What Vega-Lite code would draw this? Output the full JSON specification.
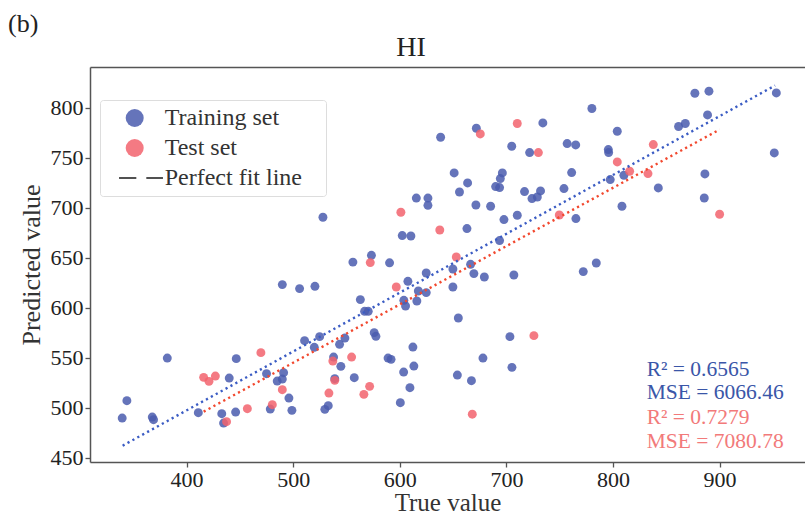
{
  "$schema": "https://vega.github.io/schema/vega-lite/v6.json",
  "width": 715,
  "height": 395,
  "autosize": {"type": "none"},
  "padding": {"left": 90, "top": 67, "right": 0, "bottom": 55},
  "background": "white",
  "config": {"view": {"stroke": null}, "font": "Liberation Serif"},
  "title": {"text": "(b)", "anchor": "start", "frame": "group", "dx": -82, "dy": 5, "offset": -20, "baseline": "alphabetic", "font": "Liberation Serif", "fontSize": 26, "fontWeight": "normal", "color": "#222"},
  "datasets": {
    "pts": [
      {"x": 339.6, "y": 489.6, "set": "Training set"},
      {"x": 344, "y": 507, "set": "Training set"},
      {"x": 367.8, "y": 490.6, "set": "Training set"},
      {"x": 369, "y": 488, "set": "Training set"},
      {"x": 381.9, "y": 549.6, "set": "Training set"},
      {"x": 411, "y": 495, "set": "Training set"},
      {"x": 433, "y": 494, "set": "Training set"},
      {"x": 434.7, "y": 484.6, "set": "Training set"},
      {"x": 440, "y": 529.6, "set": "Training set"},
      {"x": 446.6, "y": 549, "set": "Training set"},
      {"x": 446, "y": 495.6, "set": "Training set"},
      {"x": 475, "y": 534, "set": "Training set"},
      {"x": 478.5, "y": 498.6, "set": "Training set"},
      {"x": 485, "y": 526.6, "set": "Training set"},
      {"x": 489.8, "y": 528.6, "set": "Training set"},
      {"x": 491, "y": 535, "set": "Training set"},
      {"x": 489.8, "y": 623, "set": "Training set"},
      {"x": 496, "y": 509.6, "set": "Training set"},
      {"x": 498.8, "y": 497.3, "set": "Training set"},
      {"x": 506, "y": 619, "set": "Training set"},
      {"x": 510.7, "y": 567, "set": "Training set"},
      {"x": 519.8, "y": 560.3, "set": "Training set"},
      {"x": 520.4, "y": 621.3, "set": "Training set"},
      {"x": 524.8, "y": 571, "set": "Training set"},
      {"x": 529.7, "y": 498.3, "set": "Training set"},
      {"x": 532.9, "y": 502, "set": "Training set"},
      {"x": 537.9, "y": 550.6, "set": "Training set"},
      {"x": 539, "y": 529, "set": "Training set"},
      {"x": 544.7, "y": 541.3, "set": "Training set"},
      {"x": 543.5, "y": 563.3, "set": "Training set"},
      {"x": 548.5, "y": 569.6, "set": "Training set"},
      {"x": 557.3, "y": 530, "set": "Training set"},
      {"x": 563, "y": 608, "set": "Training set"},
      {"x": 567, "y": 596.3, "set": "Training set"},
      {"x": 570.4, "y": 596.3, "set": "Training set"},
      {"x": 576, "y": 575, "set": "Training set"},
      {"x": 577.6, "y": 571.3, "set": "Training set"},
      {"x": 589, "y": 549.6, "set": "Training set"},
      {"x": 591.8, "y": 548.3, "set": "Training set"},
      {"x": 600.5, "y": 505, "set": "Training set"},
      {"x": 603.6, "y": 535.6, "set": "Training set"},
      {"x": 603.8, "y": 607.3, "set": "Training set"},
      {"x": 605.4, "y": 601.6, "set": "Training set"},
      {"x": 607.6, "y": 626.3, "set": "Training set"},
      {"x": 609.5, "y": 520, "set": "Training set"},
      {"x": 612.3, "y": 560.6, "set": "Training set"},
      {"x": 613.2, "y": 541.6, "set": "Training set"},
      {"x": 616, "y": 606.6, "set": "Training set"},
      {"x": 617.4, "y": 616.6, "set": "Training set"},
      {"x": 624.8, "y": 634.6, "set": "Training set"},
      {"x": 624.8, "y": 615, "set": "Training set"},
      {"x": 556, "y": 645.5, "set": "Training set"},
      {"x": 590.4, "y": 644.8, "set": "Training set"},
      {"x": 527.9, "y": 690.3, "set": "Training set"},
      {"x": 573.4, "y": 652.3, "set": "Training set"},
      {"x": 615.5, "y": 709.5, "set": "Training set"},
      {"x": 626.4, "y": 709.5, "set": "Training set"},
      {"x": 626.4, "y": 702.2, "set": "Training set"},
      {"x": 602.3, "y": 672, "set": "Training set"},
      {"x": 610.4, "y": 671.6, "set": "Training set"},
      {"x": 671.8, "y": 779.3, "set": "Training set"},
      {"x": 734.2, "y": 784.6, "set": "Training set"},
      {"x": 638.3, "y": 770.3, "set": "Training set"},
      {"x": 705, "y": 761.3, "set": "Training set"},
      {"x": 721.8, "y": 755, "set": "Training set"},
      {"x": 651, "y": 734.6, "set": "Training set"},
      {"x": 663.6, "y": 724.6, "set": "Training set"},
      {"x": 696.2, "y": 734.6, "set": "Training set"},
      {"x": 694.3, "y": 729, "set": "Training set"},
      {"x": 689.9, "y": 721, "set": "Training set"},
      {"x": 693.6, "y": 720, "set": "Training set"},
      {"x": 656, "y": 715.6, "set": "Training set"},
      {"x": 717, "y": 716, "set": "Training set"},
      {"x": 732, "y": 716.6, "set": "Training set"},
      {"x": 729, "y": 710.6, "set": "Training set"},
      {"x": 724, "y": 709, "set": "Training set"},
      {"x": 671.4, "y": 702.6, "set": "Training set"},
      {"x": 685.2, "y": 701.3, "set": "Training set"},
      {"x": 697.7, "y": 688, "set": "Training set"},
      {"x": 710.2, "y": 692.3, "set": "Training set"},
      {"x": 663, "y": 679, "set": "Training set"},
      {"x": 666.4, "y": 643.3, "set": "Training set"},
      {"x": 649.8, "y": 638.6, "set": "Training set"},
      {"x": 669.5, "y": 634, "set": "Training set"},
      {"x": 679.3, "y": 630.6, "set": "Training set"},
      {"x": 707, "y": 632.6, "set": "Training set"},
      {"x": 649.8, "y": 620.6, "set": "Training set"},
      {"x": 654.9, "y": 589.6, "set": "Training set"},
      {"x": 703.3, "y": 571, "set": "Training set"},
      {"x": 678, "y": 549.6, "set": "Training set"},
      {"x": 705.2, "y": 540.3, "set": "Training set"},
      {"x": 654, "y": 532.6, "set": "Training set"},
      {"x": 667.2, "y": 527, "set": "Training set"},
      {"x": 772.1, "y": 636, "set": "Training set"},
      {"x": 784.3, "y": 644.6, "set": "Training set"},
      {"x": 780.2, "y": 799, "set": "Training set"},
      {"x": 757, "y": 764, "set": "Training set"},
      {"x": 765, "y": 762.6, "set": "Training set"},
      {"x": 804, "y": 776.3, "set": "Training set"},
      {"x": 795.6, "y": 758, "set": "Training set"},
      {"x": 795.9, "y": 755, "set": "Training set"},
      {"x": 761.2, "y": 735, "set": "Training set"},
      {"x": 754, "y": 719, "set": "Training set"},
      {"x": 797.4, "y": 728, "set": "Training set"},
      {"x": 810.2, "y": 732.3, "set": "Training set"},
      {"x": 765.2, "y": 689, "set": "Training set"},
      {"x": 808.4, "y": 701.3, "set": "Training set"},
      {"x": 842.5, "y": 719.6, "set": "Training set"},
      {"x": 693.6, "y": 667, "set": "Training set"},
      {"x": 876.8, "y": 814.3, "set": "Training set"},
      {"x": 890, "y": 816.3, "set": "Training set"},
      {"x": 888.7, "y": 792.6, "set": "Training set"},
      {"x": 861.5, "y": 781, "set": "Training set"},
      {"x": 867.8, "y": 784, "set": "Training set"},
      {"x": 953.2, "y": 814.6, "set": "Training set"},
      {"x": 951.3, "y": 754.6, "set": "Training set"},
      {"x": 886.2, "y": 733.6, "set": "Training set"},
      {"x": 885.6, "y": 709.6, "set": "Training set"},
      {"x": 416, "y": 530.3, "set": "Test set"},
      {"x": 421, "y": 526.3, "set": "Test set"},
      {"x": 427, "y": 531.6, "set": "Test set"},
      {"x": 437.5, "y": 486, "set": "Test set"},
      {"x": 457, "y": 499, "set": "Test set"},
      {"x": 469.7, "y": 555, "set": "Test set"},
      {"x": 480.4, "y": 503, "set": "Test set"},
      {"x": 489.8, "y": 518, "set": "Test set"},
      {"x": 533.5, "y": 514.6, "set": "Test set"},
      {"x": 537.2, "y": 546.6, "set": "Test set"},
      {"x": 539, "y": 527.3, "set": "Test set"},
      {"x": 554.8, "y": 550.6, "set": "Test set"},
      {"x": 566.3, "y": 513.3, "set": "Test set"},
      {"x": 571.7, "y": 521.3, "set": "Test set"},
      {"x": 572.3, "y": 645, "set": "Test set"},
      {"x": 596.7, "y": 620.6, "set": "Test set"},
      {"x": 601, "y": 695.3, "set": "Test set"},
      {"x": 637.5, "y": 677.6, "set": "Test set"},
      {"x": 653, "y": 650.6, "set": "Test set"},
      {"x": 710.2, "y": 784, "set": "Test set"},
      {"x": 675.5, "y": 773.6, "set": "Test set"},
      {"x": 730, "y": 755, "set": "Test set"},
      {"x": 725.8, "y": 572, "set": "Test set"},
      {"x": 668, "y": 493.5, "set": "Test set"},
      {"x": 749.6, "y": 692.6, "set": "Test set"},
      {"x": 804, "y": 745.6, "set": "Test set"},
      {"x": 815.6, "y": 736.3, "set": "Test set"},
      {"x": 832.8, "y": 734, "set": "Test set"},
      {"x": 837.8, "y": 763, "set": "Test set"},
      {"x": 900, "y": 693.3, "set": "Test set"}
    ],
    "fit": [
      {"x": 340, "y": 462, "set": "Training set"},
      {"x": 952, "y": 822, "set": "Training set"},
      {"x": 416, "y": 496, "set": "Test set"},
      {"x": 900, "y": 778, "set": "Test set"}
    ],
    "statsTrain": [{"label": ["R² = 0.6565", "MSE = 6066.46"]}],
    "statsTest": [{"label": ["R² = 0.7279", "MSE = 7080.78"]}]
  },
  "layer": [
    {
      "data": {"name": "pts"},
      "mark": {"type": "point", "filled": true, "size": 80, "opacity": 0.85, "strokeWidth": 0},
      "encoding": {
        "x": {"field": "x", "type": "quantitative", "scale": {"domain": [309.4, 980.1], "nice": false, "zero": false},
          "axis": {"orient": "bottom", "values": [400, 500, 600, 700, 800, 900], "grid": false, "domainColor": "#555", "domainWidth": 1.5, "tickColor": "#555", "tickSize": 5, "tickWidth": 1.3, "labelFont": "Liberation Serif", "labelFontSize": 22, "labelColor": "#222", "labelPadding": 2, "labelFlush": false, "title": "True value", "titleFont": "Liberation Serif", "titleFontSize": 25, "titleFontWeight": "normal", "titleColor": "#333", "titlePadding": 0}},
        "y": {"field": "y", "type": "quantitative", "scale": {"domain": [445.7, 840.5], "nice": false, "zero": false},
          "axis": {"values": [450, 500, 550, 600, 650, 700, 750, 800], "grid": false, "domainColor": "#555", "domainWidth": 1.5, "tickColor": "#555", "tickSize": 5, "tickWidth": 1.3, "labelFont": "Liberation Serif", "labelFontSize": 22, "labelColor": "#222", "labelPadding": 2, "labelFlush": false, "title": "Predicted value", "titleFont": "Liberation Serif", "titleFontSize": 26, "titleFontWeight": "normal", "titleColor": "#333", "titlePadding": 6}},
        "color": {"field": "set", "type": "nominal",
          "scale": {"domain": ["Training set", "Test set", "Perfect fit line"], "range": ["#4a5cae", "#f2636d", "#333333"]},
          "legend": {"title": null, "orient": "none", "legendX": 10, "legendY": 33, "direction": "vertical", "padding": 6, "symbolSize": 324, "symbolOffset": 16.7, "labelOffset": 18, "rowPadding": 6, "labelLimit": 400, "labelFont": "Liberation Serif", "labelFontSize": 24, "labelColor": "#333", "strokeColor": "#dddddd", "fillColor": "white", "cornerRadius": 3, "labelExpr": "datum.label + '\u2800'"}},
        "shape": {"field": "set", "type": "nominal",
          "scale": {"domain": ["Training set", "Test set", "Perfect fit line"], "range": ["circle", "circle", "M-1.74,-0.12H0.18V0.12H-1.74Z M1.29,-0.12H3.14V0.12H1.29Z"]},
          "legend": {"title": null, "orient": "none", "legendX": 10, "legendY": 33, "direction": "vertical", "padding": 6, "symbolSize": 324, "symbolOffset": 16.7, "labelOffset": 18, "rowPadding": 6, "labelLimit": 400, "labelFont": "Liberation Serif", "labelFontSize": 24, "labelColor": "#333", "strokeColor": "#dddddd", "fillColor": "white", "cornerRadius": 3, "labelExpr": "datum.label + '\u2800'"}}
      }
    },
    {
      "data": {"name": "fit"},
      "mark": {"type": "line", "strokeDash": [2.2, 3.4], "strokeWidth": 2.4},
      "encoding": {
        "x": {"field": "x", "type": "quantitative", "scale": {"domain": [309.4, 980.1], "nice": false, "zero": false},
          "axis": {"orient": "top", "labels": false, "ticks": false, "grid": false, "domain": true, "domainColor": "#555", "domainWidth": 1.5, "title": "HI", "titleFont": "Liberation Serif", "titleFontSize": 28, "titleFontWeight": "normal", "titleColor": "#222", "titleX": 320.5, "titleY": -12, "titleAlign": "center", "titleBaseline": "alphabetic"}},
        "y": {"field": "y", "type": "quantitative", "scale": {"domain": [445.7, 840.5], "nice": false, "zero": false}},
        "stroke": {"field": "set", "type": "nominal", "scale": {"domain": ["Training set", "Test set"], "range": ["#3b5cc4", "#f2482e"]}, "legend": null}
      }
    },
    {
      "data": {"name": "statsTrain"},
      "mark": {"type": "text", "align": "left", "baseline": "alphabetic", "font": "Liberation Serif", "fontSize": 21.5, "lineHeight": 23.5, "color": "#3a56a8"},
      "encoding": {
        "x": {"datum": 831.6, "type": "quantitative", "scale": {"domain": [309.4, 980.1], "nice": false, "zero": false}, "axis": null},
        "y": {"datum": 531.7, "type": "quantitative", "scale": {"domain": [445.7, 840.5], "nice": false, "zero": false}},
        "text": {"field": "label"}
      }
    },
    {
      "data": {"name": "statsTest"},
      "mark": {"type": "text", "align": "left", "baseline": "alphabetic", "font": "Liberation Serif", "fontSize": 21.5, "lineHeight": 23.5, "color": "#f27a7a"},
      "encoding": {
        "x": {"datum": 831.6, "type": "quantitative", "scale": {"domain": [309.4, 980.1], "nice": false, "zero": false}, "axis": null},
        "y": {"datum": 483.2, "type": "quantitative", "scale": {"domain": [445.7, 840.5], "nice": false, "zero": false}},
        "text": {"field": "label"}
      }
    }
  ],
  "resolve": {"axis": {"x": "independent"}}
}
